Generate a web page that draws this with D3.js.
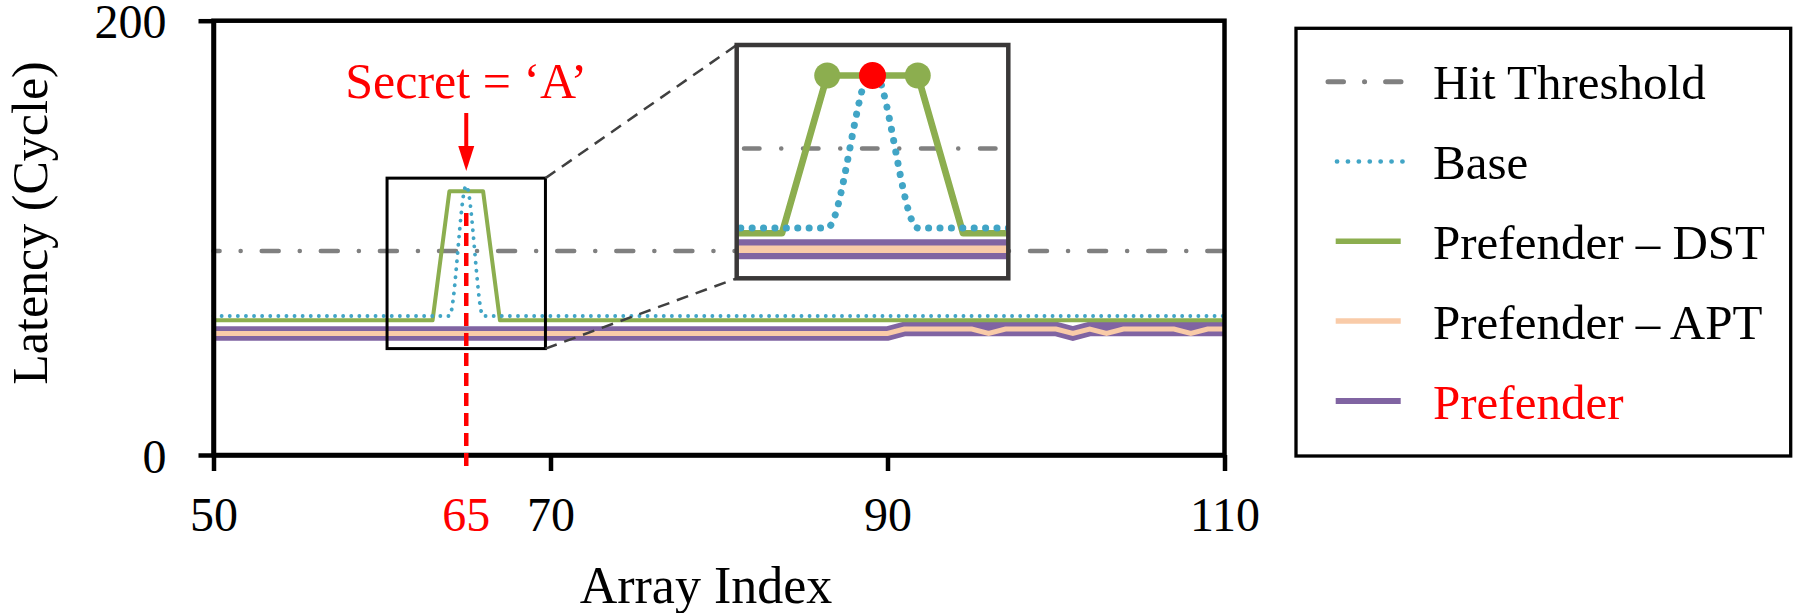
<!DOCTYPE html>
<html>
<head>
<meta charset="utf-8">
<script src="https://cdn.jsdelivr.net/npm/d3@7"></script>
<style>
  html, body { margin: 0; padding: 0; background: #fff; }
  svg { display: block; font-family: "Liberation Serif", "Times New Roman", serif; }
</style>
</head>
<body>
<div id="chart"></div>
<script>
// x categories (array index)
var arrayIndex = [
  50, 51, 52, 53, 54, 55, 56, 57, 58, 59,
  60, 61, 62, 63, 64, 65, 66, 67, 68, 69,
  70, 71, 72, 73, 74, 75, 76, 77, 78, 79,
  80, 81, 82, 83, 84, 85, 86, 87, 88, 89,
  90, 91, 92, 93, 94, 95, 96, 97, 98, 99,
  100, 101, 102, 103, 104, 105, 106, 107, 108, 109,
  110
];

// latency series (cycles)
var base = [
  64, 64, 64, 64, 64, 64, 64, 64, 64, 64,
  64, 64, 64, 64, 64, 124, 64, 64, 64, 64,
  64, 64, 64, 64, 64, 64, 64, 64, 64, 64,
  64, 64, 64, 64, 64, 64, 64, 64, 64, 64,
  64, 64, 64, 64, 64, 64, 64, 64, 64, 64,
  64, 64, 64, 64, 64, 64, 64, 64, 64, 64,
  64
];
var prefenderDST = [
  62, 62, 62, 62, 62, 62, 62, 62, 62, 62,
  62, 62, 62, 62, 121.5, 121.5, 121.5, 62, 62, 62,
  62, 62, 62, 62, 62, 62, 62, 62, 62, 62,
  62, 62, 62, 62, 62, 62, 62, 62, 62, 62,
  62, 62, 62, 62, 62, 62, 62, 62, 62, 62,
  62, 62, 62, 62, 62, 62, 62, 62, 62, 62,
  62
];
var prefenderAPT = [
  56, 56, 56, 56, 56, 56, 56, 56, 56, 56,
  56, 56, 56, 56, 56, 56, 56, 56, 56, 56,
  56, 56, 56, 56, 56, 56, 56, 56, 56, 56,
  56, 56, 56, 56, 56, 56, 56, 56, 56, 56,
  56, 58, 58, 58, 58, 58, 56, 58, 58, 58,
  58, 56, 58, 56, 58, 58, 58, 58, 56, 58,
  58
];
var prefender = [
  56, 56, 56, 56, 56, 56, 56, 56, 56, 56,
  56, 56, 56, 56, 56, 56, 56, 56, 56, 56,
  56, 56, 56, 56, 56, 56, 56, 56, 56, 56,
  56, 56, 56, 56, 56, 56, 56, 56, 56, 56,
  56, 58, 58, 58, 58, 58, 58, 58, 58, 58,
  58, 56, 58, 58, 58, 58, 58, 58, 58, 58,
  58
];
var hitThreshold = 94;
var secretIndex = 65;

var xTicks = [50, 70, 90, 110];
var yTicks = [0, 200];
var legendLabels = ["Hit Threshold", "Base", "Prefender \u2013 DST", "Prefender \u2013 APT", "Prefender"];

// zoomed region (data units) and the range shown in the magnified view
var zoomX = [60.3, 69.7], zoomY = [49, 127.5];
var insetX = [62, 68], insetY = [45, 133];

var width = 1808, height = 613;
var colors = {
  threshold: "#808080",
  base: "#41a5c6",
  dst: "#8cae4f",
  apt: "#f9cba8",
  pref: "#8064a2",
  red: "#ff0000"
};

var svg = d3.select("#chart").append("svg")
  .attr("width", width)
  .attr("height", height);

svg.append("rect").attr("width", width).attr("height", height).attr("fill", "#fff");

var x = d3.scaleLinear().domain([50, 110]).range([213.5, 1224.5]);
var y = d3.scaleLinear().domain([0, 200]).range([455, 20.7]);

function seriesLine(xs, ys, curve) {
  return d3.line()
    .x(function (d, i) { return xs(arrayIndex[i]); })
    .y(function (d) { return ys(d); })
    .curve(curve || d3.curveLinear);
}

// draws all series for a pair of scales (main chart and inset)
function drawSeries(g, xs, ys, s) {
  g.append("line")
    .attr("x1", xs.range()[0]).attr("x2", xs.range()[1])
    .attr("y1", ys(hitThreshold)).attr("y2", ys(hitThreshold))
    .attr("stroke", colors.threshold)
    .attr("stroke-width", s.thr)
    .attr("stroke-linecap", "round")
    .attr("stroke-dasharray", s.thrDash)
    .attr("stroke-dashoffset", s.thrOffset);

  g.append("path").datum(prefender)
    .attr("d", seriesLine(xs, ys))
    .attr("fill", "none").attr("stroke", colors.pref)
    .attr("stroke-width", s.pref);

  g.append("path").datum(prefenderAPT)
    .attr("d", seriesLine(xs, ys))
    .attr("fill", "none").attr("stroke", colors.apt)
    .attr("stroke-width", s.apt);

  g.append("path").datum(prefenderDST)
    .attr("d", seriesLine(xs, ys))
    .attr("fill", "none").attr("stroke", colors.dst)
    .attr("stroke-width", s.dst)
    .attr("stroke-linejoin", "round");

  g.append("path").datum(base)
    .attr("d", seriesLine(xs, ys, d3.curveMonotoneX))
    .attr("fill", "none").attr("stroke", colors.base)
    .attr("stroke-width", s.base)
    .attr("stroke-linecap", "round")
    .attr("stroke-dasharray", "0.1 " + s.baseGap);
}

// main plot
var plot = svg.append("g");
drawSeries(plot, x, y, {thr: 4.5, thrDash: "17 21 0.1 21", thrOffset: 10.9, pref: 14.5, apt: 5, dst: 4, base: 3.8, baseGap: 8});

// frame + axes
svg.append("rect")
  .attr("x", x(50)).attr("y", y(200))
  .attr("width", x(110) - x(50)).attr("height", y(0) - y(200))
  .attr("fill", "none").attr("stroke", "#000").attr("stroke-width", 4.5);

var yAxis = svg.append("g")
  .attr("transform", "translate(" + x(50) + ",0)")
  .call(d3.axisLeft(y).tickValues(yTicks).tickSize(15).tickPadding(32).tickSizeOuter(0));
var xAxis = svg.append("g")
  .attr("transform", "translate(0," + y(0) + ")")
  .call(d3.axisBottom(x).tickValues(xTicks).tickSize(16).tickPadding(26).tickSizeOuter(0));

[yAxis, xAxis].forEach(function (a) {
  a.attr("font-family", null).attr("font-size", 48);
  a.selectAll("path, line").attr("stroke", "#000").attr("stroke-width", 4.5);
  a.selectAll("text").attr("fill", "#000");
});
yAxis.selectAll("text").attr("dy", "0.36em");

// secret marker
svg.append("line")
  .attr("x1", x(secretIndex)).attr("x2", x(secretIndex))
  .attr("y1", 213).attr("y2", 471)
  .attr("stroke", colors.red).attr("stroke-width", 4.5)
  .attr("stroke-dasharray", "13 7");

svg.append("text")
  .attr("x", x(secretIndex)).attr("y", y(0) + 16 + 26)
  .attr("dy", "0.71em")
  .attr("text-anchor", "middle")
  .attr("font-size", 48)
  .attr("fill", colors.red)
  .text(secretIndex);

svg.append("line")
  .attr("x1", x(secretIndex)).attr("x2", x(secretIndex))
  .attr("y1", 113).attr("y2", 150)
  .attr("stroke", colors.red).attr("stroke-width", 4);
svg.append("path")
  .attr("d", d3.line()([[x(secretIndex) - 8, 146], [x(secretIndex) + 8, 146], [x(secretIndex), 171]]) + "Z")
  .attr("fill", colors.red);

svg.append("text")
  .attr("x", x(secretIndex)).attr("y", 98)
  .attr("text-anchor", "middle")
  .attr("font-size", 50)
  .attr("fill", colors.red)
  .text("Secret = \u2018A\u2019");

// zoom box, connectors and inset
var ib = {x0: 736.7, x1: 1008.3, y0: 45, y1: 278.3};
var zb = {x0: x(zoomX[0]), x1: x(zoomX[1]), y0: y(zoomY[1]), y1: y(zoomY[0])};

svg.append("rect")
  .attr("x", zb.x0).attr("y", zb.y0)
  .attr("width", zb.x1 - zb.x0).attr("height", zb.y1 - zb.y0)
  .attr("fill", "none").attr("stroke", "#000").attr("stroke-width", 3);

[[zb.y0, ib.y0], [zb.y1, ib.y1]].forEach(function (p) {
  svg.append("line")
    .attr("x1", zb.x1).attr("y1", p[0])
    .attr("x2", ib.x0).attr("y2", p[1])
    .attr("stroke", "#404040").attr("stroke-width", 2.5)
    .attr("stroke-dasharray", "12 8");
});

var ix = d3.scaleLinear().domain(insetX).range([ib.x0, ib.x1]);
var iy = d3.scaleLinear().domain(insetY).range([ib.y1, ib.y0]);

svg.append("clipPath").attr("id", "inset-clip")
  .append("rect")
  .attr("x", ib.x0).attr("y", ib.y0)
  .attr("width", ib.x1 - ib.x0).attr("height", ib.y1 - ib.y0);

svg.append("rect")
  .attr("x", ib.x0).attr("y", ib.y0)
  .attr("width", ib.x1 - ib.x0).attr("height", ib.y1 - ib.y0)
  .attr("fill", "#fff");

var inset = svg.append("g").attr("clip-path", "url(#inset-clip)");
drawSeries(inset, ix, iy, {thr: 4.5, thrDash: "15.5 21.7 0.1 21.7", thrOffset: 51.7, pref: 20, apt: 7.5, dst: 6.7, base: 7, baseGap: 11.3});

inset.selectAll("circle.dst")
  .data([secretIndex - 1, secretIndex + 1])
  .enter().append("circle")
  .attr("class", "dst")
  .attr("cx", function (d) { return ix(d); })
  .attr("cy", function (d) { return iy(prefenderDST[arrayIndex.indexOf(d)]); })
  .attr("r", 13)
  .attr("fill", colors.dst);

inset.append("circle")
  .attr("cx", ix(secretIndex))
  .attr("cy", iy(prefenderDST[arrayIndex.indexOf(secretIndex)]))
  .attr("r", 13.5)
  .attr("fill", colors.red);

svg.append("rect")
  .attr("x", ib.x0).attr("y", ib.y0)
  .attr("width", ib.x1 - ib.x0).attr("height", ib.y1 - ib.y0)
  .attr("fill", "none").attr("stroke", "#3a3838").attr("stroke-width", 4.5);

// axis titles
svg.append("text")
  .attr("transform", "translate(47,223) rotate(-90)")
  .attr("text-anchor", "middle")
  .attr("font-size", 50)
  .text("Latency (Cycle)");

svg.append("text")
  .attr("x", 706).attr("y", 603)
  .attr("text-anchor", "middle")
  .attr("font-size", 52)
  .text("Array Index");

// legend
var legend = svg.append("g");
legend.append("rect")
  .attr("x", 1296).attr("y", 28.3)
  .attr("width", 494.7).attr("height", 427.7)
  .attr("fill", "#fff").attr("stroke", "#000").attr("stroke-width", 3.3);

var legendStyles = [
  {color: colors.threshold, w: 5, dash: "15.5 21 0.1 21", cap: "round", x0: 1328, x1: 1401},
  {color: colors.base, w: 4.7, dash: "0.1 10.8", cap: "round", x0: 1337, x1: 1403},
  {color: colors.dst, w: 5.5, dash: null, cap: "butt", x0: 1335.7, x1: 1400.7},
  {color: colors.apt, w: 5.5, dash: null, cap: "butt", x0: 1335.7, x1: 1400.7},
  {color: colors.pref, w: 6, dash: null, cap: "butt", x0: 1335.7, x1: 1400.7}
];

var rows = legend.selectAll("g.row")
  .data(legendLabels)
  .enter().append("g")
  .attr("class", "row")
  .attr("transform", function (d, i) { return "translate(0," + (81.7 + i * 79.8) + ")"; });

rows.append("line")
  .attr("x1", function (d, i) { return legendStyles[i].x0; })
  .attr("x2", function (d, i) { return legendStyles[i].x1; })
  .attr("stroke", function (d, i) { return legendStyles[i].color; })
  .attr("stroke-width", function (d, i) { return legendStyles[i].w; })
  .attr("stroke-linecap", function (d, i) { return legendStyles[i].cap; })
  .attr("stroke-dasharray", function (d, i) { return legendStyles[i].dash; });

rows.append("text")
  .attr("x", 1433)
  .attr("dy", "0.36em")
  .attr("font-size", 49)
  .attr("fill", function (d, i) { return i === 4 ? colors.red : "#000"; })
  .text(function (d) { return d; });
</script>
</body>
</html>
